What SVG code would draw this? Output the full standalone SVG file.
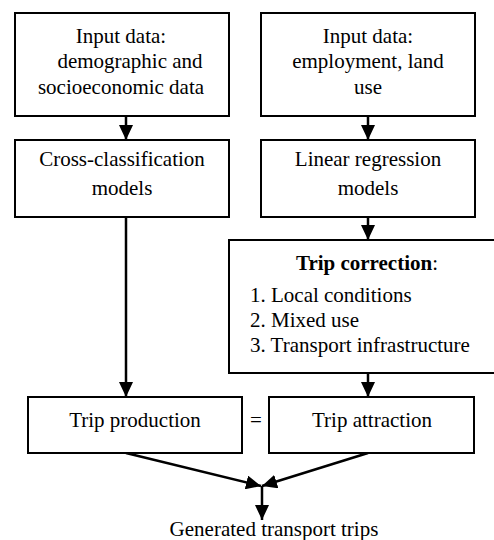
<svg xmlns="http://www.w3.org/2000/svg" width="494" height="540" viewBox="0 0 494 540">
<style>
.box{fill:#fff;stroke:#000;stroke-width:2}
.c{text-anchor:middle}
.con{fill:none;stroke:#000;stroke-width:2.5}
</style>
<defs>
<marker id="ah" markerUnits="userSpaceOnUse" markerWidth="16" markerHeight="14" refX="15" refY="7" orient="auto">
<path d="M0,0 L15,7 L0,14 z" fill="#000"/>
</marker>
</defs>
<rect width="494" height="540" fill="#fff"/>
<g id="connectors">
<line class="con" x1="126" y1="116" x2="126" y2="140" marker-end="url(#ah)"/>
<line class="con" x1="368" y1="116" x2="368" y2="140" marker-end="url(#ah)"/>
<line class="con" x1="126" y1="217" x2="126" y2="397" marker-end="url(#ah)"/>
<line class="con" x1="368" y1="217" x2="368" y2="240" marker-end="url(#ah)"/>
<line class="con" x1="368" y1="373" x2="368" y2="397" marker-end="url(#ah)"/>
<line class="con" x1="126" y1="453" x2="261" y2="486" marker-end="url(#ah)"/>
<line class="con" x1="368" y1="453" x2="262" y2="486" marker-end="url(#ah)"/>
<line class="con" x1="262" y1="486" x2="262" y2="520" marker-end="url(#ah)"/>
</g>
<g font-family="Liberation Serif, Times New Roman, DejaVu Serif, serif" font-size="21" fill="#000">
<g id="input-demo">
<rect class="box" x="15" y="13" width="214" height="103"/>
<text class="c" x="121" y="43">Input data:</text>
<text class="c" x="130" y="68">demographic and</text>
<text class="c" x="121" y="94">socioeconomic data</text>
</g>
<g id="input-employment">
<rect class="box" x="261" y="13" width="214" height="103"/>
<text class="c" x="368" y="43">Input data:</text>
<text class="c" x="368" y="68">employment, land</text>
<text class="c" x="368" y="94">use</text>
</g>
<g id="cross-classification">
<rect class="box" x="15" y="140" width="214" height="77"/>
<text class="c" x="122" y="166">Cross-classification</text>
<text class="c" x="122" y="195">models</text>
</g>
<g id="linear-regression">
<rect class="box" x="261" y="140" width="214" height="77"/>
<text class="c" x="368" y="166">Linear regression</text>
<text class="c" x="368" y="195">models</text>
</g>
<g id="trip-correction">
<rect class="box" x="229" y="240" width="270" height="133"/>
<text class="c" x="367" y="270"><tspan font-weight="bold">Trip correction</tspan>:</text>
<text x="250" y="302">1. Local conditions</text>
<text x="250" y="327">2. Mixed use</text>
<text x="250" y="352">3. Transport infrastructure</text>
</g>
<g id="trip-production">
<rect class="box" x="28" y="397" width="214" height="56"/>
<text class="c" x="135" y="427">Trip production</text>
</g>
<g id="equals">
<text class="c" x="256" y="427">=</text>
</g>
<g id="trip-attraction">
<rect class="box" x="269" y="397" width="205" height="56"/>
<text class="c" x="372" y="427">Trip attraction</text>
</g>
<g id="generated">
<text class="c" x="274" y="536">Generated transport trips</text>
</g>
</g>
</svg>
